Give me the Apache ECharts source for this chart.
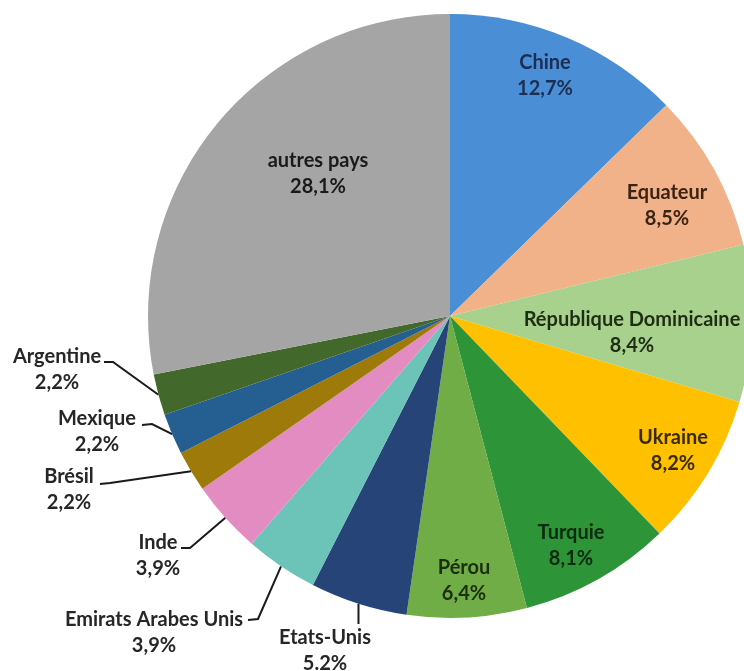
<!DOCTYPE html>
<html>
<head>
<meta charset="utf-8">
<script src="https://cdn.jsdelivr.net/npm/echarts@6/dist/echarts.min.js"></script>
<style>
  html, body { margin: 0; padding: 0; background: #ffffff; }
  #chart { width: 744px; height: 671px; }
</style>
</head>
<body>
<div id="chart"></div>
<script>
// Parts by country, in clockwise order starting at 12 o'clock
const countries = ['Chine', 'Equateur', 'République Dominicaine', 'Ukraine', 'Turquie', 'Pérou',
  'Etats-Unis', 'Emirats Arabes Unis', 'Inde', 'Brésil', 'Mexique', 'Argentine', 'autres pays'];
const shares = [12.7, 8.5, 8.4, 8.2, 8.1, 6.4, 5.2, 3.9, 3.9, 2.2, 2.2, 2.2, 28.1];
const decimalMarks = [',', ',', ',', ',', ',', ',', '.', ',', ',', ',', ',', ',', ','];

const sliceColors = ['#4a8fd6', '#f1b189', '#a9d18e', '#ffc000', '#2d9437', '#70ad47',
  '#264478', '#6cc4b9', '#e38cc2', '#9e7a0a', '#255e91', '#43682b', '#a5a5a5'];
const textColors = ['#1c2e52', '#3b2414', '#1e2e14', '#3a2a00', '#0e2a10', '#1b2e0e',
  '#262626', '#262626', '#262626', '#262626', '#262626', '#262626', '#1a1a1a'];

// Label placement: inside labels give a block centre; outside labels also give
// the leader line elbow and end beside the text.
const insideLabels = {
  'Chine': [545, 76],
  'Equateur': [667, 206],
  'République Dominicaine': [632, 333],
  'Ukraine': [673, 451],
  'Turquie': [571, 546],
  'Pérou': [464, 581],
  'autres pays': [318, 174]
};
const outsideLabels = {
  'Argentine': { at: [57, 370], elbow: [113, 362], end: [104, 362] },
  'Mexique': { at: [97, 432], elbow: [152, 424], end: [142, 425] },
  'Brésil': { at: [69, 490], elbow: [110, 483], end: [100, 484] },
  'Inde': { at: [158, 556], elbow: [190, 548], end: [181, 548] },
  'Emirats Arabes Unis': { at: [154, 633], elbow: [258, 619], end: [248, 620] },
  'Etats-Unis': { at: [325, 651], vertical: 624 }
};

const fontFamily = 'Lato, "Open Sans", sans-serif';

const seriesData = countries.map((name, i) => {
  const outside = !!outsideLabels[name];
  return {
    name: name,
    value: shares[i],
    itemStyle: { color: sliceColors[i] },
    label: {
      position: outside ? 'outside' : 'inside',
      color: textColors[i]
    },
    labelLine: { show: outside }
  };
});

const chart = echarts.init(document.getElementById('chart'), null, { renderer: 'canvas' });

chart.setOption({
  backgroundColor: '#ffffff',
  animation: false,
  series: [{
    type: 'pie',
    center: [450, 316],
    radius: 302,
    startAngle: 90,
    clockwise: true,
    avoidLabelOverlap: false,
    data: seriesData,
    label: {
      show: true,
      fontFamily: fontFamily,
      fontWeight: 'bold',
      fontSize: 20,
      lineHeight: 26,
      align: 'center',
      formatter: function (p) {
        const mark = decimalMarks[p.dataIndex];
        return p.name + '\n' + p.value.toFixed(1).replace('.', mark) + '%';
      }
    },
    labelLine: {
      show: false,
      lineStyle: { color: '#1a1a1a', width: 2 }
    },
    labelLayout: function (params) {
      const name = countries[params.dataIndex];
      const inner = insideLabels[name];
      if (inner) {
        return { x: inner[0], y: inner[1], align: 'center', verticalAlign: 'middle' };
      }
      const out = outsideLabels[name];
      const start = params.labelLinePoints ? params.labelLinePoints[0] : null;
      const res = { x: out.at[0], y: out.at[1], align: 'center', verticalAlign: 'middle' };
      if (start) {
        if (out.vertical) {
          res.labelLinePoints = [start, [start[0], (start[1] + out.vertical) / 2], [start[0], out.vertical]];
        } else {
          res.labelLinePoints = [start, out.elbow, out.end];
        }
      }
      return res;
    }
  }]
});
</script>
</body>
</html>
